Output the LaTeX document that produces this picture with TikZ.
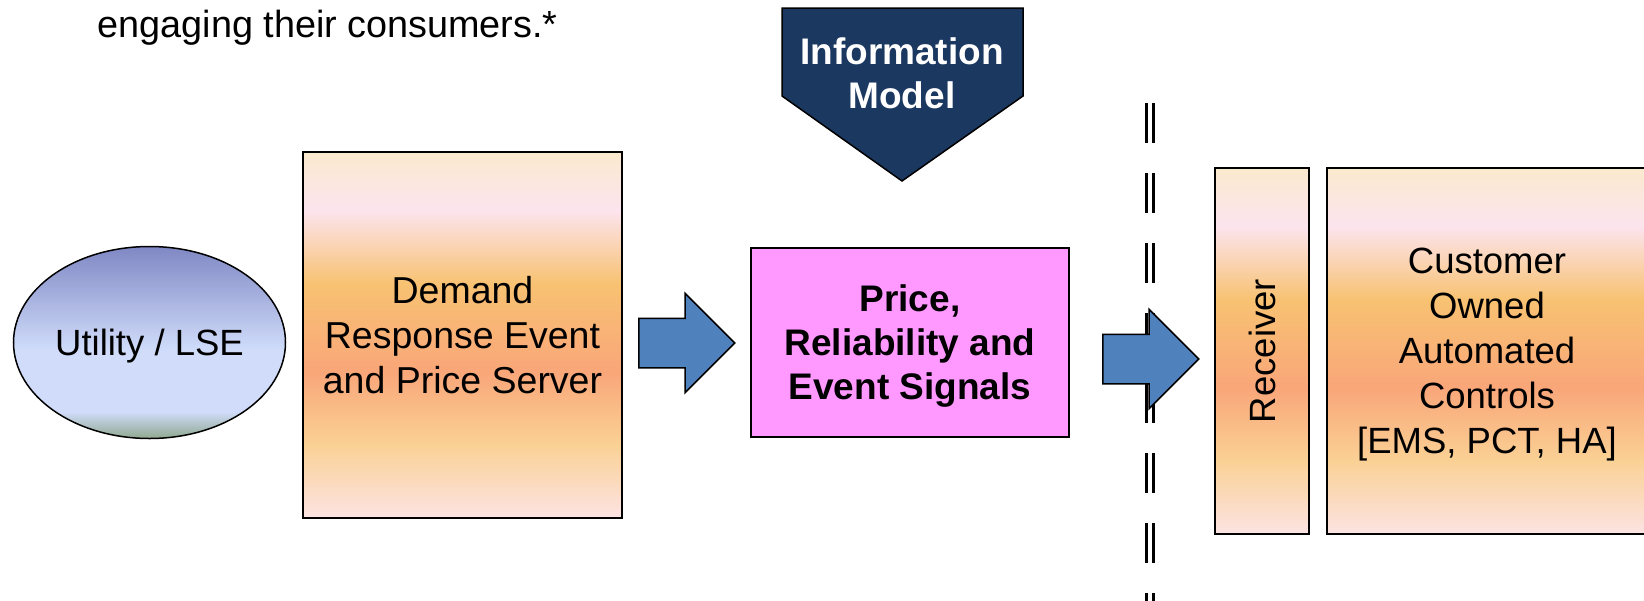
\documentclass[tikz,border=0pt]{standalone}
\usepackage{fontspec}
\setmainfont{Liberation Sans}
\usetikzlibrary{positioning,shapes.geometric,shapes.arrows}

\definecolor{navy}{RGB}{27,56,96}
\definecolor{signalpink}{RGB}{255,153,255}
\definecolor{arrowblue}{RGB}{79,129,189}
\definecolor{cream}{RGB}{251,233,206}
\definecolor{blush}{RGB}{252,228,238}
\definecolor{amber}{RGB}{248,194,114}
\definecolor{salmon}{RGB}{249,166,121}
\definecolor{peach}{RGB}{250,209,149}
\definecolor{rose}{RGB}{252,227,227}
\definecolor{lilac}{RGB}{128,136,196}
\definecolor{skyblue}{RGB}{208,220,250}
\definecolor{sage}{RGB}{143,168,143}

\pgfdeclareverticalshading{warmfade}{100bp}{color(0bp)=(rose); color(25bp)=(rose);
  color(35bp)=(peach); color(45bp)=(salmon); color(57bp)=(amber);
  color(67bp)=(blush); color(75bp)=(cream); color(100bp)=(cream)}
\pgfdeclareverticalshading{coolfade}{100bp}{color(0bp)=(sage); color(25bp)=(sage);
  color(32bp)=(skyblue); color(48bp)=(skyblue); color(75bp)=(lilac); color(100bp)=(lilac)}

\begin{document}
\begin{tikzpicture}[x=1pt,y=-1pt,
    plain text/.style={font=\fontsize{36.5}{45}\selectfont, align=center, text depth=0pt},
    bold text/.style={font=\fontsize{37}{44}\selectfont\bfseries, align=center, text depth=0pt},
    warm box/.style={draw, line width=2pt, shading=warmfade, plain text, inner sep=0pt},
    block arrow/.style={single arrow, draw, line width=1.5pt, fill=arrowblue, inner sep=0pt,
        minimum height=96pt, text height=48pt, text depth=0pt, single arrow head extend=25pt},
    divider/.style={line width=3pt, dash pattern=on 40pt off 30pt}]

    \useasboundingbox (0,0) rectangle (1644,600);

    % Define boxes
    \node[plain text, font=\fontsize{37.8}{45}\selectfont, anchor=base west] (intro) at (94,37)
        {engaging their consumers.*};
    \node[ellipse, draw, line width=1.5pt, shading=coolfade, plain text, inner sep=0pt,
        minimum width=272pt, minimum height=192pt] (utility) at (149.5,342.5) {Utility / LSE};
    \node[warm box, font=\fontsize{37.5}{45}\selectfont, minimum width=319pt, minimum height=366pt]
        (server) at (462.5,335) {Demand\\Response Event\\and Price Server};
    \node[draw, line width=2pt, fill=signalpink, bold text, minimum width=318pt,
        minimum height=189pt] (signals) at (910,342.5) {Price,\\Reliability and\\Event Signals};
    \node[warm box, minimum width=94pt, minimum height=366pt] (receiver) at (1262,351)
        {\rotatebox{90}{Receiver}};
    \node[warm box, minimum width=320pt, minimum height=366pt, right=16pt of receiver] (controls)
        {Customer\\Owned\\Automated\\Controls\\{[}EMS, PCT, HA]};

    % Information model banner
    \draw[line width=1.5pt, fill=navy] (782,8) -- (1023,8) -- (1023,96) -- (902,181)
        -- (782,96) -- cycle;
    \node[bold text, text=white] (infomodel) at (902,73) {Information\\Model};

    % Boundary line
    \foreach \dx in {1146.5,1153}
        \draw[divider] (\dx,103) -- (\dx,640);

    % Draw arrows
    \node[block arrow, anchor=tail] (pushA) at (638,343) {};
    \node[block arrow, anchor=tail] (pushB) at (1102,359) {};

\end{tikzpicture}
\end{document}
